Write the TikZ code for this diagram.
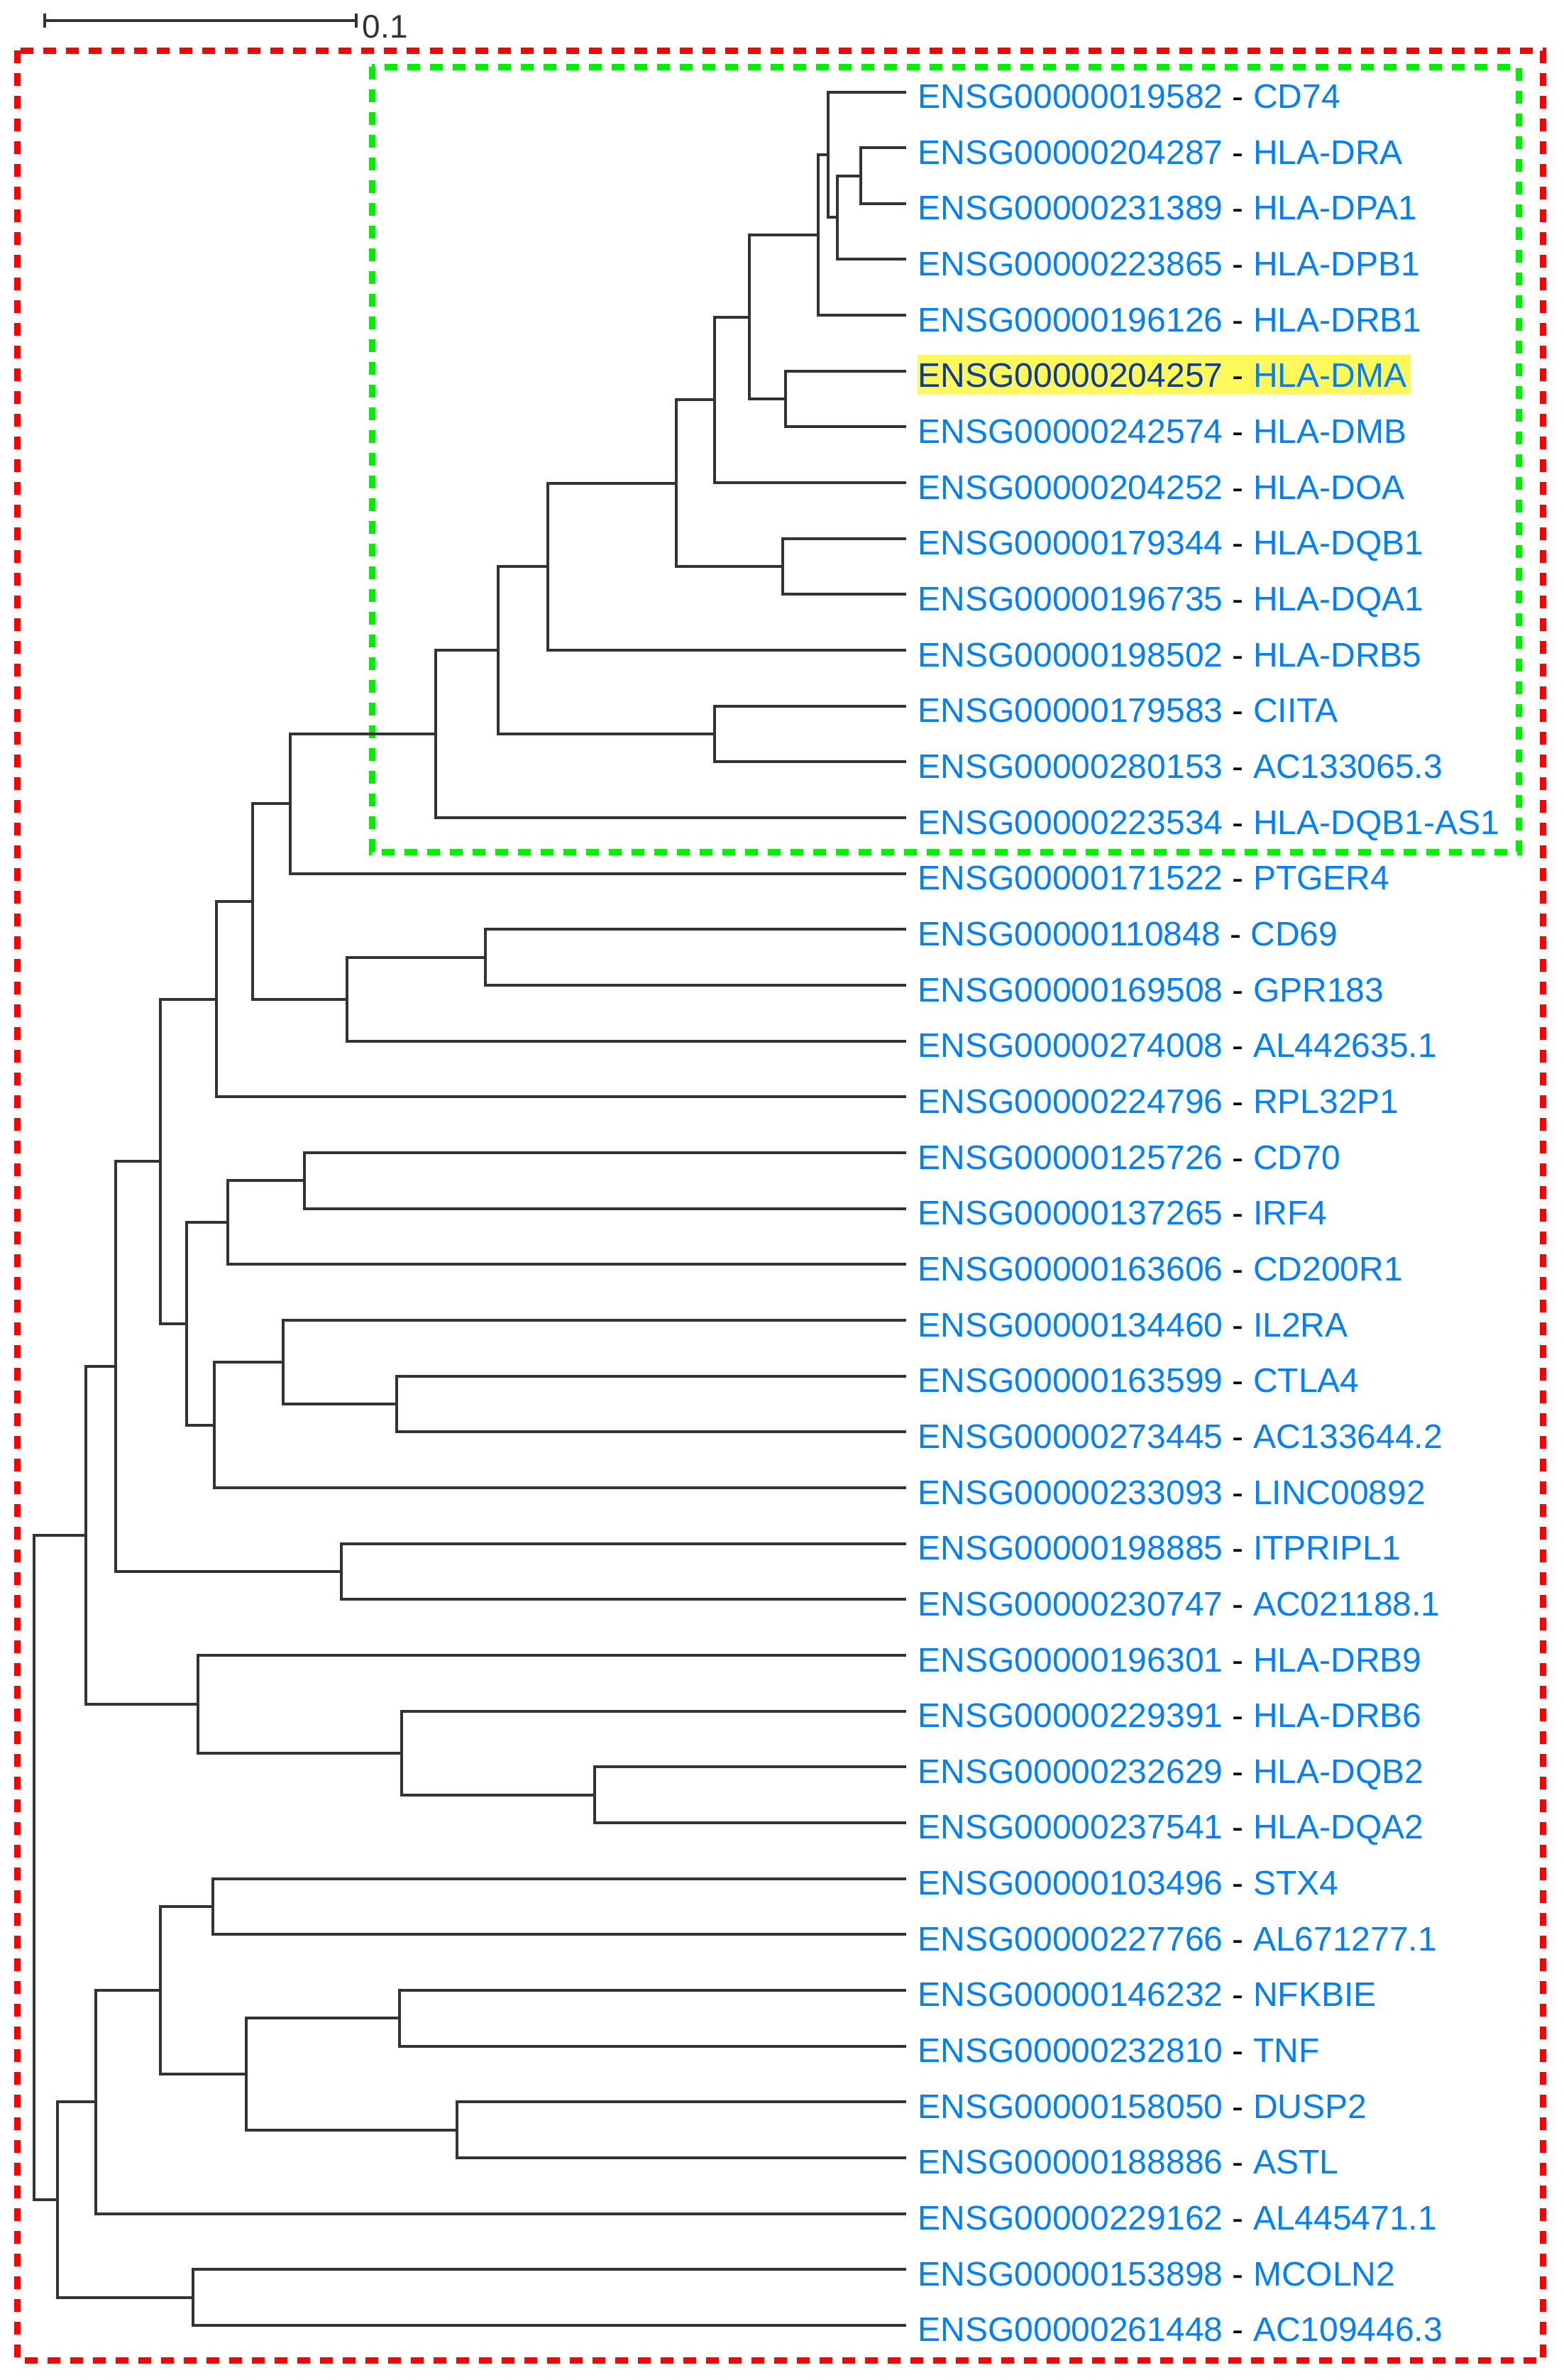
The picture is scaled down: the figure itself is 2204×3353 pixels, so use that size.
\documentclass[tikz,border=0pt]{standalone}
\usepackage{fontspec}
\setmainfont{Liberation Sans}
\usetikzlibrary{calc}
\definecolor{lblue}{RGB}{0,128,255}
\definecolor{dblue}{RGB}{15,60,150}
\definecolor{hl}{RGB}{255,248,90}
\definecolor{branchc}{RGB}{51,51,51}
\definecolor{boxgreen}{RGB}{0,240,0}
\definecolor{boxred}{RGB}{255,0,0}
\tikzset{
  branch/.style={draw=branchc, line width=1pt},
  lab/.style={anchor=base west, inner sep=0pt, font=\fontsize{12}{14}\selectfont, text=lblue},
  redbox/.style={draw=boxred, line width=2.25pt, dash pattern=on 4.5pt off 3.5pt},
  greenbox/.style={draw=boxgreen, line width=2.25pt, dash pattern=on 4.5pt off 3.5pt},
  scalebar/.style={draw=branchc, line width=0.8pt},
}
\newcommand\leafnode[3]{%
  \coordinate (l#1) at (1277,{129.5+78.66*#1});
  \node[lab] (t#1) at (1293,{152.5+78.66*#1}) {#2 {\color{black}-} #3};
}
\newcommand\jn[4]{%
  \path let \p1=(#3), \p2=(#4) in ({#2*0.25pt},{0.5*\y1+0.5*\y2}) coordinate (#1);
  \draw[branch] (#3) -| (#1) |- (#4);
}
\begin{document}
\begin{tikzpicture}[x=0.25pt,y=-0.25pt]
\useasboundingbox (0,0) rectangle (2204,3353);
% boxes
\draw[redbox] (24.5,71) rectangle (2174,3325);
\draw[greenbox] (524,94) rectangle (2140,1200);
% scale bar
\coordinate (sb0) at (63,29);
\coordinate (sb1) at (502,29);
\draw[scalebar] (sb0) -- (sb1);
\draw[scalebar] ($(sb0)+(0,-10)$) -- ($(sb0)+(0,10)$);
\draw[scalebar] ($(sb1)+(0,-10)$) -- ($(sb1)+(0,10)$);
\node[anchor=base west, inner sep=0pt, font=\fontsize{11.5}{13}\selectfont, text=branchc] (sblab) at (510,53) {0.1};
% highlight
\fill[hl] (1293,500) rectangle (1988,556);
% leaves
\leafnode{0}{ENSG00000019582}{CD74}
\leafnode{1}{ENSG00000204287}{HLA-DRA}
\leafnode{2}{ENSG00000231389}{HLA-DPA1}
\leafnode{3}{ENSG00000223865}{HLA-DPB1}
\leafnode{4}{ENSG00000196126}{HLA-DRB1}
\coordinate (l5) at (1277,{129.5+78.66*5});
\node[lab] (t5) at (1293,{152.5+78.66*5}) {{\color{dblue}ENSG00000204257} {\color{black}-} HLA-DMA};
\leafnode{6}{ENSG00000242574}{HLA-DMB}
\leafnode{7}{ENSG00000204252}{HLA-DOA}
\leafnode{8}{ENSG00000179344}{HLA-DQB1}
\leafnode{9}{ENSG00000196735}{HLA-DQA1}
\leafnode{10}{ENSG00000198502}{HLA-DRB5}
\leafnode{11}{ENSG00000179583}{CIITA}
\leafnode{12}{ENSG00000280153}{AC133065.3}
\leafnode{13}{ENSG00000223534}{HLA-DQB1-AS1}
\leafnode{14}{ENSG00000171522}{PTGER4}
\leafnode{15}{ENSG00000110848}{CD69}
\leafnode{16}{ENSG00000169508}{GPR183}
\leafnode{17}{ENSG00000274008}{AL442635.1}
\leafnode{18}{ENSG00000224796}{RPL32P1}
\leafnode{19}{ENSG00000125726}{CD70}
\leafnode{20}{ENSG00000137265}{IRF4}
\leafnode{21}{ENSG00000163606}{CD200R1}
\leafnode{22}{ENSG00000134460}{IL2RA}
\leafnode{23}{ENSG00000163599}{CTLA4}
\leafnode{24}{ENSG00000273445}{AC133644.2}
\leafnode{25}{ENSG00000233093}{LINC00892}
\leafnode{26}{ENSG00000198885}{ITPRIPL1}
\leafnode{27}{ENSG00000230747}{AC021188.1}
\leafnode{28}{ENSG00000196301}{HLA-DRB9}
\leafnode{29}{ENSG00000229391}{HLA-DRB6}
\leafnode{30}{ENSG00000232629}{HLA-DQB2}
\leafnode{31}{ENSG00000237541}{HLA-DQA2}
\leafnode{32}{ENSG00000103496}{STX4}
\leafnode{33}{ENSG00000227766}{AL671277.1}
\leafnode{34}{ENSG00000146232}{NFKBIE}
\leafnode{35}{ENSG00000232810}{TNF}
\leafnode{36}{ENSG00000158050}{DUSP2}
\leafnode{37}{ENSG00000188886}{ASTL}
\leafnode{38}{ENSG00000229162}{AL445471.1}
\leafnode{39}{ENSG00000153898}{MCOLN2}
\leafnode{40}{ENSG00000261448}{AC109446.3}
% internal nodes
\jn{A}{1213}{l1}{l2}
\jn{B}{1180}{A}{l3}
\jn{C}{1167}{l0}{B}
\jn{D}{1153}{C}{l4}
\jn{F}{1107}{l5}{l6}
\jn{E}{1056}{D}{F}
\jn{G}{1007}{E}{l7}
\jn{I}{1103}{l8}{l9}
\jn{H}{953}{G}{I}
\jn{J}{772}{H}{l10}
\jn{L}{1007}{l11}{l12}
\jn{K}{701.5}{J}{L}
\jn{M}{614}{K}{l13}
\jn{N}{409}{M}{l14}
\jn{Q}{684}{l15}{l16}
\jn{P}{489}{Q}{l17}
\jn{O}{356}{N}{P}
\jn{R}{305}{O}{l18}
\jn{V}{429}{l19}{l20}
\jn{U}{320.6}{V}{l21}
\jn{Y}{559}{l23}{l24}
\jn{X}{398.5}{l22}{Y}
\jn{W}{301.6}{X}{l25}
\jn{T}{263}{U}{W}
\jn{S}{226}{R}{T}
\jn{AA}{480.5}{l26}{l27}
\jn{Z}{163}{S}{AA}
\jn{AE}{838}{l30}{l31}
\jn{AD}{566}{l29}{AE}
\jn{AC}{278.5}{l28}{AD}
\jn{AB}{120.7}{Z}{AC}
\jn{AH}{299.5}{l32}{l33}
\jn{AI}{562.6}{l34}{l35}
\jn{AJ}{644}{l36}{l37}
\jn{AK}{347}{AI}{AJ}
\jn{AL}{226}{AH}{AK}
\jn{AM}{135.4}{AL}{l38}
\jn{AN}{271.5}{l39}{l40}
\jn{AG}{80.7}{AM}{AN}
\jn{AF}{47.7}{AB}{AG}
\end{tikzpicture}
\end{document}
